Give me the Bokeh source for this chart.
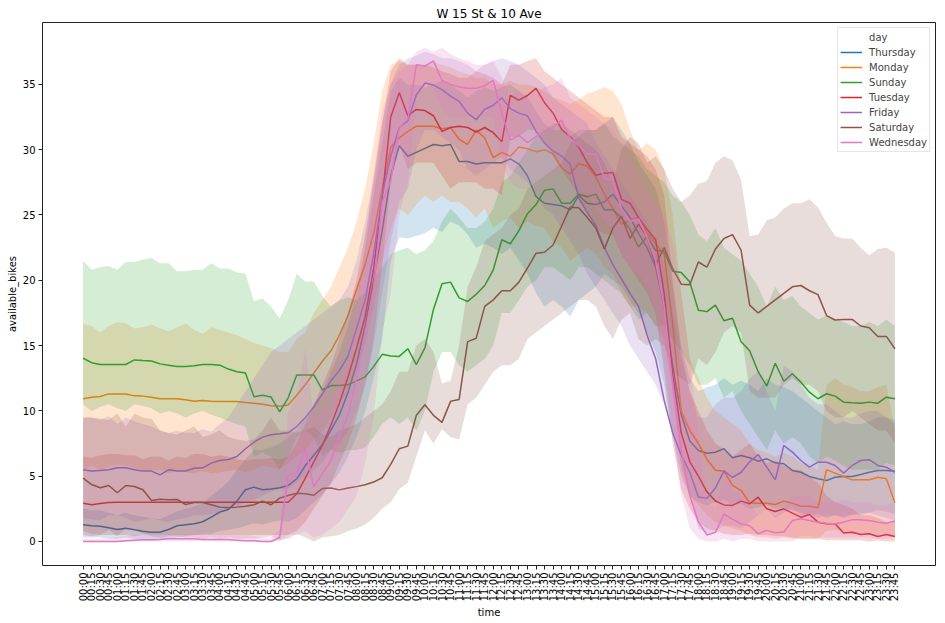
from math import pi
from bokeh.plotting import figure
from bokeh.models import Range1d, FixedTicker, Legend, LegendItem
from bokeh.embed import file_html
from bokeh.resources import INLINE

# ---------------- data ----------------
times = [f"{h:02d}:{m:02d}" for h in range(24) for m in (0, 15, 30, 45)]
days = ["Thursday", "Monday", "Sunday", "Tuesday", "Friday", "Saturday", "Wednesday"]
colors = ["#1f77b4", "#ff7f0e", "#2ca02c", "#d62728", "#9467bd", "#8c564b", "#e377c2"]

thursday = [
    1.28, 1.20, 1.17, 1.05, 0.92, 1.02, 0.89, 0.79, 0.71, 0.71, 0.92, 1.20,
    1.28, 1.36, 1.51, 1.86, 2.25, 2.45, 3.09, 3.96, 4.16, 3.96, 4.01, 4.11,
    4.29, 4.80, 5.80, 6.60, 7.40, 8.50, 9.70, 11.40, 13.60, 16.50, 20.00, 23.80,
    28.00, 30.30, 29.50, 29.80, 30.10, 30.40, 30.30, 30.40, 29.10, 29.10, 28.90, 29.00,
    29.00, 29.00, 29.30, 28.90, 28.00, 26.40, 25.90, 25.80, 25.70, 25.40, 26.50, 25.90,
    25.80, 26.00, 26.60, 25.70, 24.80, 23.60, 22.50, 21.00, 18.00, 13.40, 9.70, 7.70,
    6.97, 6.76, 6.84, 7.10, 6.41, 6.58, 6.41, 6.15, 6.33, 6.02, 5.95, 5.44,
    5.30, 4.98, 4.80, 4.67, 4.92, 4.98, 4.98, 5.13, 5.30, 5.44, 5.44, 5.38]
thursday_lo = [
    0.3, 0.3, 0.3, 0.2, 0.2, 0.3, 0.2, 0.1, 0.1, 0.1, 0.2, 0.3,
    0.4, 0.5, 0.6, 0.6, 0.8, 0.9, 1.0, 1.2, 1.4, 1.3, 1.5, 1.6,
    1.5, 1.8, 2.4, 3.0, 3.6, 4.4, 5.3, 6.5, 8.0, 10.0, 12.5, 15.5,
    21.5, 23.3, 23.2, 23.4, 23.6, 24.0, 23.7, 24.5, 24.2, 23.5, 22.5, 22.8,
    22.5, 22.0, 22.5, 21.5, 20.5, 19.0, 18.0, 18.5, 18.0, 17.2, 18.5, 19.0,
    19.5, 20.5, 20.0, 19.5, 18.5, 17.5, 16.0, 14.5, 12.0, 8.0, 5.0, 3.5,
    3.0, 2.8, 3.0, 3.2, 2.8, 2.9, 2.5, 2.6, 2.8, 2.5, 2.6, 2.4,
    2.2, 2.0, 2.1, 1.8, 2.0, 1.9, 2.1, 2.0, 2.2, 2.4, 2.3, 2.1]
thursday_hi = [
    2.5, 2.4, 2.4, 2.2, 2.0, 2.2, 2.0, 1.9, 1.8, 1.7, 2.0, 2.3,
    2.5, 2.7, 2.9, 3.5, 4.0, 4.6, 5.5, 6.3, 7.0, 7.0, 7.2, 7.5,
    8.0, 8.5, 9.5, 10.5, 11.5, 13.0, 14.5, 16.5, 19.0, 22.5, 26.5, 30.5,
    34.5, 35.5, 35.0, 35.0, 34.8, 35.0, 35.3, 35.0, 34.5, 34.0, 34.5, 34.8,
    34.5, 34.8, 35.0, 34.5, 34.0, 33.0, 32.0, 31.5, 31.5, 31.0, 31.5, 31.5,
    31.5, 32.0, 32.5, 31.5, 30.5, 29.0, 28.0, 27.0, 24.5, 19.5, 15.0, 12.5,
    11.5, 11.8, 12.0, 12.5, 12.0, 12.3, 12.0, 11.5, 12.5, 12.0, 11.8, 11.5,
    11.0, 10.5, 10.0, 9.5, 9.0, 9.2, 9.0, 9.0, 9.2, 9.5, 9.5, 9.3]

monday = [
    10.93, 11.05, 11.10, 11.30, 11.30, 11.30, 11.15, 11.13, 11.05, 10.93, 10.93, 10.93,
    10.85, 10.74, 10.80, 10.74, 10.72, 10.72, 10.72, 10.64, 10.59, 10.50, 10.40, 10.36,
    10.45, 11.20, 12.00, 12.90, 13.80, 14.60, 15.80, 17.30, 19.30, 21.20, 23.60, 27.00,
    30.20, 30.90, 31.40, 31.80, 31.80, 31.80, 31.60, 31.70, 30.80, 30.40, 31.50, 30.90,
    29.40, 29.80, 29.50, 30.20, 30.07, 29.85, 30.00, 29.67, 28.60, 28.14, 28.94, 28.73,
    27.90, 26.60, 25.50, 24.30, 24.60, 24.80, 23.60, 22.80, 22.00, 16.60, 10.00, 8.50,
    7.50, 6.30, 5.45, 5.38, 4.30, 3.90, 2.96, 2.93, 2.93, 2.83, 3.09, 2.93,
    2.70, 2.70, 2.58, 5.49, 5.23, 4.98, 4.72, 4.72, 4.72, 4.92, 4.80, 2.96]
monday_lo = [
    5.5, 5.8, 5.5, 5.7, 5.9, 5.8, 5.6, 5.5, 5.4, 5.5, 5.2, 5.4,
    5.3, 5.2, 5.4, 5.2, 5.3, 5.4, 5.5, 5.3, 5.5, 5.8, 5.7, 5.5,
    6.0, 6.5, 7.0, 7.8, 8.5, 9.5, 10.5, 11.5, 13.0, 15.0, 18.0, 21.5,
    24.0, 25.5, 25.0, 25.8, 26.5, 26.0, 26.5, 26.0, 26.0, 25.5, 24.8, 25.5,
    24.0, 24.5, 24.8, 24.0, 24.5, 24.2, 24.0, 23.0, 22.5, 21.5, 22.0, 22.5,
    22.0, 21.0, 20.5, 19.0, 18.0, 18.0, 17.5, 16.5, 15.5, 11.5, 5.5, 3.5,
    2.8, 2.0, 1.5, 1.2, 1.0, 0.8, 0.5, 0.3, 0.3, 0.2, 0.3, 0.2,
    0.2, 0.2, 0.2, 0.8, 0.9, 0.7, 0.6, 0.6, 0.6, 0.5, 0.6, 0.3]
monday_hi = [
    16.7, 16.5, 16.0, 16.5, 16.8, 16.7, 16.3, 16.4, 16.6, 16.3, 16.1, 16.4,
    16.7, 16.2, 15.9, 16.4, 16.2, 16.0, 15.8, 15.5, 15.2, 15.0, 14.8, 14.5,
    14.5, 15.5, 16.0, 17.5, 18.5, 19.5, 21.0, 22.5, 24.5, 27.0, 30.5, 34.5,
    36.5, 36.8, 36.5, 36.5, 36.5, 36.7, 36.5, 36.3, 36.0, 35.8, 35.5, 35.5,
    35.0, 35.0, 35.3, 35.0, 35.0, 34.8, 34.5, 34.0, 33.8, 33.5, 33.8, 34.3,
    34.5, 34.8, 34.5, 33.5, 31.5, 30.0, 30.5, 30.0, 28.5, 25.0, 19.0, 14.0,
    12.5, 11.0, 10.0, 9.5, 9.0, 8.5, 7.5, 7.0, 6.8, 6.5, 6.8, 6.5,
    6.0, 5.8, 5.5, 12.0, 12.5, 12.0, 11.8, 11.5, 11.5, 11.8, 12.0, 8.5]

sunday = [
    14.03, 13.69, 13.55, 13.55, 13.55, 13.55, 13.90, 13.85, 13.82, 13.60, 13.50, 13.40,
    13.40, 13.45, 13.55, 13.55, 13.50, 13.20, 13.00, 12.90, 11.08, 11.19, 11.06, 9.93,
    11.00, 12.75, 12.75, 12.75, 11.60, 11.94, 11.94, 12.00, 12.30, 12.60, 13.40, 14.33,
    14.20, 14.17, 14.76, 13.55, 14.82, 17.77, 19.73, 19.86, 18.65, 18.38, 18.93, 19.60,
    20.80, 23.10, 22.80, 23.80, 25.10, 25.80, 26.90, 27.00, 25.90, 25.90, 26.60, 26.40,
    26.60, 25.40, 25.40, 24.80, 23.90, 22.55, 23.35, 22.30, 22.20, 20.70, 20.60, 19.86,
    17.70, 17.60, 18.10, 16.90, 17.10, 15.30, 14.60, 13.00, 11.90, 13.65, 12.27, 12.84,
    12.20, 11.43, 10.93, 11.31, 11.13, 10.67, 10.62, 10.59, 10.67, 10.59, 11.05, 10.93]
sunday_lo = [
    10.5, 10.0, 10.3, 10.5, 10.2, 10.0, 10.5, 10.4, 10.2, 9.8, 10.0, 9.8,
    9.5, 9.8, 10.0, 9.7, 9.5, 9.2, 9.0, 8.8, 6.5, 6.8, 6.5, 5.5,
    6.5, 8.0, 8.5, 8.0, 6.5, 7.0, 6.8, 7.0, 7.0, 7.2, 8.0, 9.0,
    9.5, 9.0, 9.5, 8.5, 10.0, 13.0, 14.5, 14.5, 13.5, 13.0, 13.5, 14.0,
    15.0, 17.5, 17.5, 18.5, 19.5, 20.0, 21.0, 21.0, 20.5, 20.0, 21.0, 21.0,
    20.5, 20.0, 19.5, 19.0, 18.0, 17.0, 17.5, 16.5, 16.5, 15.5, 14.5, 13.5,
    12.0, 12.0, 12.5, 11.0, 11.5, 10.0, 9.0, 8.0, 7.0, 8.5, 7.5, 8.0,
    7.5, 6.5, 6.0, 6.5, 6.2, 5.8, 5.5, 5.5, 5.5, 5.5, 6.0, 5.8]
sunday_hi = [
    21.5, 20.8, 21.0, 21.1, 20.8, 21.4, 21.4, 21.6, 21.7, 21.3, 21.3, 20.7,
    20.7, 20.8, 20.8, 21.3, 20.9, 20.9, 20.6, 20.5, 18.4, 18.6, 18.0, 17.1,
    18.5, 20.5, 19.9, 19.9, 18.8, 18.0, 18.5, 18.7, 18.5, 19.0, 20.0, 21.0,
    22.0, 22.3, 22.5, 22.0, 22.3, 23.0, 24.5, 25.5, 24.8, 24.0, 24.0, 24.5,
    25.5, 27.5, 28.0, 29.0, 30.0, 31.0, 31.5, 32.0, 32.0, 31.5, 31.0, 31.5,
    31.5, 32.0, 31.0, 30.5, 30.0, 29.5, 28.5, 28.0, 27.5, 26.5, 26.0, 25.0,
    23.5, 23.0, 24.0, 22.5, 22.0, 21.5, 20.5, 19.5, 18.0, 19.5, 18.5, 18.8,
    18.0, 17.5, 17.0, 17.3, 17.0, 16.8, 16.5, 16.5, 16.8, 16.5, 17.0, 16.5]

tuesday = [
    2.93, 2.81, 2.90, 2.99, 3.00, 3.00, 3.00, 3.00, 3.00, 3.00, 3.00, 3.00,
    3.00, 3.00, 3.00, 3.00, 3.00, 3.00, 3.00, 3.00, 3.00, 3.00, 3.00, 3.00,
    3.00, 3.65, 4.85, 6.10, 7.35, 8.90, 10.60, 12.60, 14.80, 17.20, 20.90, 26.30,
    32.50, 34.37, 32.60, 33.08, 33.00, 32.60, 31.40, 31.70, 31.80, 31.70, 31.35, 31.70,
    31.30, 30.60, 34.15, 33.80, 34.15, 34.70, 33.60, 32.80, 31.55, 31.00, 30.20, 29.00,
    28.05, 28.20, 28.25, 26.20, 25.90, 24.80, 23.90, 23.10, 19.00, 12.80, 8.30, 6.10,
    5.00, 3.80, 3.10, 2.80, 2.76, 3.09, 2.89, 3.39, 2.50, 2.30, 2.50, 2.17,
    1.86, 2.07, 1.48, 1.35, 1.35, 0.64, 0.71, 0.54, 0.59, 0.38, 0.54, 0.38]
tuesday_lo = [
    0.5, 0.4, 0.5, 0.5, 0.5, 0.5, 0.4, 0.5, 0.5, 0.5, 0.5, 0.5,
    0.5, 0.5, 0.5, 0.5, 0.5, 0.5, 0.5, 0.5, 0.5, 0.5, 0.5, 0.5,
    0.5, 0.8, 1.5, 2.5, 3.5, 4.5, 6.0, 7.5, 9.5, 12.0, 15.5, 21.0,
    27.5, 30.5, 28.5, 29.0, 29.0, 29.0, 28.0, 27.0, 27.5, 27.5, 27.5, 27.0,
    27.0, 26.5, 31.0, 31.0, 31.5, 31.5, 30.5, 29.5, 28.5, 27.5, 26.5, 25.0,
    24.0, 23.5, 23.5, 22.0, 21.0, 20.0, 19.0, 17.5, 13.0, 7.5, 4.0, 2.5,
    1.5, 1.0, 0.8, 0.6, 0.5, 0.5, 0.6, 0.5, 0.5, 0.4, 0.4, 0.3,
    0.2, 0.2, 0.2, 0.1, 0.1, 0.1, 0.1, 0.1, 0.0, 0.1, 0.0, 0.0]
tuesday_hi = [
    6.5, 6.4, 6.6, 6.7, 6.7, 6.6, 6.6, 6.3, 6.5, 6.5, 6.2, 6.5,
    6.4, 6.7, 6.7, 6.5, 6.6, 6.5, 6.3, 6.2, 6.3, 6.3, 6.4, 6.3,
    6.5, 7.5, 9.0, 10.5, 12.0, 13.5, 15.5, 17.5, 20.0, 23.5, 27.5, 32.0,
    36.0, 37.0, 36.5, 36.5, 36.5, 36.3, 36.0, 35.8, 35.5, 35.5, 36.0, 35.8,
    35.5, 35.0, 36.5, 36.5, 36.8, 37.0, 36.0, 35.5, 35.0, 34.5, 34.0, 33.5,
    33.0, 32.5, 32.5, 31.0, 30.5, 30.0, 29.5, 28.5, 26.5, 20.0, 14.5, 11.5,
    10.0, 8.5, 7.5, 7.0, 6.5, 7.0, 7.5, 6.5, 6.0, 6.2, 5.8, 5.5,
    5.5, 5.0, 4.5, 3.5, 3.0, 2.8, 2.5, 2.0, 2.0, 1.8, 1.5, 1.5]

friday = [
    5.49, 5.39, 5.44, 5.49, 5.64, 5.64, 5.49, 5.39, 5.39, 5.10, 5.49, 5.39,
    5.39, 5.61, 5.64, 6.00, 6.20, 6.28, 6.51, 7.10, 7.60, 7.99, 8.17, 8.24,
    8.32, 8.80, 9.50, 10.30, 11.30, 12.30, 13.10, 14.20, 16.30, 18.50, 22.00, 26.50,
    29.50, 31.70, 32.20, 34.20, 35.10, 34.95, 34.60, 34.10, 33.70, 32.80, 32.30, 33.10,
    33.40, 33.97, 33.15, 32.80, 32.60, 31.40, 30.50, 29.90, 29.50, 28.90, 26.30, 25.20,
    24.20, 22.50, 21.20, 20.10, 19.00, 18.00, 15.80, 14.00, 10.80, 8.30, 6.60, 5.30,
    3.40, 3.30, 4.10, 5.40, 4.90, 5.30, 6.10, 6.66, 5.69, 4.72, 7.35, 6.84,
    6.20, 5.69, 6.07, 6.07, 5.82, 5.23, 5.82, 6.20, 6.26, 5.82, 5.69, 5.30]
friday_lo = [
    1.8, 1.7, 1.6, 2.0, 2.0, 1.8, 1.5, 1.6, 1.8, 1.6, 1.5, 1.7,
    1.8, 2.0, 2.0, 2.1, 2.2, 2.5, 2.7, 3.0, 3.2, 3.5, 3.8, 4.0,
    4.0, 4.5, 5.0, 5.5, 6.0, 7.0, 7.5, 8.5, 10.0, 12.0, 15.0, 19.0,
    23.0, 26.0, 27.0, 30.0, 31.5, 31.5, 31.0, 30.5, 30.0, 28.5, 28.0, 28.5,
    29.0, 29.5, 28.5, 28.0, 27.5, 26.5, 25.5, 25.0, 24.0, 23.0, 22.0, 20.5,
    19.5, 18.5, 17.5, 16.5, 15.0, 14.0, 13.0, 12.0, 10.5, 8.5, 6.0, 3.5,
    1.0, 0.6, 0.8, 1.2, 1.2, 1.0, 1.5, 2.0, 2.5, 1.8, 2.2, 2.5,
    2.0, 2.0, 1.8, 2.0, 2.0, 1.8, 2.0, 2.2, 2.2, 2.0, 1.8, 1.6]
friday_hi = [
    9.5, 9.5, 9.3, 9.6, 9.0, 9.5, 9.2, 9.0, 8.8, 8.5, 8.3, 8.5,
    8.3, 8.3, 8.6, 8.4, 9.0, 9.5, 10.5, 11.5, 12.5, 13.5, 14.5, 15.0,
    15.5, 16.0, 16.5, 17.0, 17.5, 18.0, 18.5, 19.5, 21.5, 24.5, 28.0, 32.0,
    35.0, 36.5, 37.0, 37.2, 37.5, 37.3, 37.0, 37.0, 36.8, 36.5, 36.0, 36.5,
    36.8, 37.0, 36.8, 36.5, 36.0, 35.5, 35.0, 34.0, 33.5, 33.0, 32.5, 32.0,
    30.5, 29.5, 28.5, 27.5, 26.5, 25.5, 24.5, 23.0, 21.0, 17.5, 14.0, 11.5,
    9.5, 9.5, 10.5, 11.0, 11.0, 11.5, 12.5, 13.0, 11.5, 10.0, 13.5, 13.0,
    12.0, 11.0, 10.5, 10.5, 10.0, 9.5, 9.5, 9.8, 10.0, 10.0, 9.5, 9.0]

saturday = [
    4.85, 4.36, 4.11, 4.29, 3.73, 4.29, 4.21, 3.96, 3.14, 3.24, 3.19, 3.22,
    2.83, 2.99, 2.99, 2.81, 2.63, 2.58, 2.63, 2.70, 2.81, 3.09, 2.81, 3.32,
    3.52, 3.70, 3.65, 3.54, 4.05, 4.10, 3.95, 4.10, 4.20, 4.35, 4.55, 4.88,
    5.90, 7.10, 7.30, 9.66, 10.47, 9.66, 9.12, 10.73, 10.87, 15.30, 15.56, 18.00,
    18.50, 19.20, 19.20, 19.86, 20.94, 22.07, 22.15, 22.70, 24.16, 25.60, 25.55, 24.80,
    24.00, 22.40, 24.00, 24.90, 23.20, 24.30, 23.30, 21.20, 22.50, 20.90, 19.70, 19.65,
    21.40, 21.00, 22.40, 23.20, 23.50, 22.30, 18.10, 17.50, 18.00, 18.50, 19.00, 19.50,
    19.60, 19.20, 18.90, 17.30, 16.96, 17.00, 17.00, 16.50, 16.37, 15.70, 15.70, 14.76]
saturday_lo = [
    0.8, 0.6, 0.5, 0.9, 0.4, 1.0, 0.9, 0.6, 0.4, 0.3, 0.4, 0.4,
    0.3, 0.3, 0.2, 0.3, 0.2, 0.3, 0.2, 0.2, 0.2, 0.3, 0.4, 0.1,
    0.2, 0.6, 0.3, 0.0, 0.3, 0.4, 0.5, 0.8, 1.0, 1.3, 1.8, 2.5,
    3.0, 4.0, 4.5, 6.5, 8.5, 7.5, 8.6, 8.0, 7.8, 10.5, 11.0, 12.0,
    13.0, 13.5, 13.5, 14.0, 15.5, 16.0, 16.5, 17.0, 17.5, 18.0, 18.5, 18.5,
    18.0, 16.5, 15.5, 17.0, 17.5, 15.5, 15.0, 15.5, 15.0, 13.0, 12.5, 12.0,
    14.0, 13.5, 14.5, 16.0, 16.5, 16.0, 11.5, 11.0, 11.0, 11.0, 12.0, 12.5,
    12.0, 12.0, 11.5, 10.0, 9.5, 9.5, 10.0, 9.5, 9.0, 8.5, 8.5, 7.5]
saturday_hi = [
    9.5, 9.5, 9.4, 9.3, 9.8, 8.8, 9.8, 9.5, 9.4, 8.5, 8.3, 8.2,
    8.5, 8.8, 8.0, 8.2, 8.5, 8.0, 7.8, 7.7, 7.8, 8.5, 9.5, 8.5,
    8.5, 8.3, 8.5, 8.8, 8.2, 8.0, 8.5, 8.7, 9.0, 9.5, 10.0, 10.5,
    11.5, 13.0, 13.0, 15.0, 15.5, 14.5, 12.1, 12.3, 15.0, 19.5, 21.0, 23.0,
    23.5, 24.0, 25.0, 25.5, 27.0, 27.5, 28.0, 28.5, 29.0, 30.5, 31.0, 30.5,
    30.0, 29.0, 27.5, 30.0, 31.0, 30.5, 29.0, 29.5, 28.5, 27.0, 26.0, 26.5,
    27.4, 27.6, 29.0, 29.5, 29.2, 27.7, 23.4, 23.5, 24.6, 24.8, 25.5, 25.9,
    25.9, 26.2, 25.6, 24.4, 23.4, 23.2, 23.2, 22.5, 21.9, 22.4, 22.5, 22.1]

wednesday = [
    0.00, 0.00, 0.00, 0.00, 0.00, 0.05, 0.10, 0.13, 0.13, 0.15, 0.20, 0.20,
    0.20, 0.20, 0.15, 0.15, 0.15, 0.15, 0.10, 0.05, 0.05, 0.00, 0.00, 0.30,
    5.05, 5.20, 7.10, 4.20, 5.20, 6.20, 8.00, 9.70, 12.50, 16.00, 19.30, 26.00,
    27.60, 31.70, 32.35, 36.50, 36.40, 36.80, 35.30, 35.00, 34.80, 34.70, 34.70, 34.90,
    35.30, 32.76, 30.74, 31.10, 30.55, 31.00, 31.40, 31.70, 32.27, 30.87, 30.30, 29.67,
    29.67, 27.80, 27.65, 25.50, 24.50, 24.70, 23.30, 21.50, 18.00, 12.00, 7.00, 3.50,
    1.50, 0.50, 0.70, 2.10, 1.70, 1.35, 1.20, 0.60, 0.85, 0.67, 0.72, 1.60,
    1.74, 1.60, 1.48, 1.40, 1.35, 1.48, 1.66, 1.66, 1.60, 1.48, 1.40, 1.56]
wednesday_lo = [
    0.0, 0.0, 0.0, 0.0, 0.0, 0.0, 0.0, 0.0, 0.0, 0.0, 0.0, 0.0,
    0.0, 0.0, 0.0, 0.0, 0.0, 0.0, 0.0, 0.0, 0.0, 0.0, 0.0, 0.0,
    0.5, 0.5, 0.8, 0.3, 0.5, 1.0, 1.5, 2.5, 3.5, 6.0, 9.5, 16.0,
    19.0, 25.0, 27.5, 34.0, 35.0, 34.8, 33.0, 32.5, 32.5, 32.5, 32.5, 32.5,
    32.5, 29.0, 27.5, 27.0, 27.0, 27.5, 28.0, 28.0, 28.5, 28.0, 27.0, 26.5,
    25.5, 24.5, 24.0, 22.0, 21.0, 20.5, 19.5, 17.5, 14.0, 8.5, 3.5, 1.0,
    0.2, 0.0, 0.0, 0.2, 0.0, 0.2, 0.2, 0.0, 0.0, 0.0, 0.0, 0.0,
    0.4, 0.4, 0.3, 0.3, 0.3, 0.3, 0.3, 0.3, 0.3, 0.2, 0.2, 0.3]
wednesday_hi = [
    0.2, 0.2, 0.2, 0.2, 0.3, 0.4, 0.5, 0.5, 0.5, 0.5, 0.6, 0.6,
    0.6, 0.6, 0.6, 0.5, 0.5, 0.5, 0.5, 0.5, 0.4, 0.3, 0.3, 0.9,
    10.0, 11.0, 14.8, 9.5, 10.0, 11.0, 12.5, 14.0, 18.0, 22.5, 28.0, 33.0,
    35.0, 36.0, 36.5, 37.5, 37.8, 37.5, 37.8, 37.3, 37.0, 36.8, 36.5, 36.5,
    36.8, 35.5, 34.0, 34.5, 34.0, 34.5, 34.8, 35.0, 35.5, 34.0, 33.5, 33.0,
    32.5, 32.0, 31.5, 30.5, 29.5, 28.0, 27.0, 26.0, 25.0, 23.0, 19.0, 14.0,
    8.0, 3.0, 2.5, 5.0, 4.0, 3.5, 3.0, 2.0, 2.5, 2.0, 2.5, 3.5,
    3.5, 3.5, 3.0, 3.0, 3.0, 3.2, 3.0, 3.0, 3.0, 2.8, 2.8, 3.0]

series = {
    "Thursday": (thursday, thursday_lo, thursday_hi),
    "Monday": (monday, monday_lo, monday_hi),
    "Sunday": (sunday, sunday_lo, sunday_hi),
    "Tuesday": (tuesday, tuesday_lo, tuesday_hi),
    "Friday": (friday, friday_lo, friday_hi),
    "Saturday": (saturday, saturday_lo, saturday_hi),
    "Wednesday": (wednesday, wednesday_lo, wednesday_hi),
}
y_ticks = [0, 5, 10, 15, 20, 25, 30, 35]

# ---------------- figure ----------------
FONT = "DejaVu Sans"
xpos = list(range(len(times)))
Y0, Y1 = -1.84, 39.74

p = figure(width=945, height=623, output_backend="svg", toolbar_location=None,
           x_range=Range1d(-4.75, len(times) - 1 + 4.75), y_range=Range1d(Y0, Y1),
           min_border_left=42, min_border_right=10, min_border_top=22, min_border_bottom=58,
           title="W 15 St & 10 Ave")
p.title.align = "center"
p.title.text_font = FONT
p.title.text_font_size = "12px"
p.title.text_font_style = "normal"
p.title.text_color = "black"
p.title.standoff = 3
p.xgrid.visible = False
p.ygrid.visible = False
p.outline_line_color = "#222222"
p.outline_line_width = 1
p.background_fill_color = "white"
p.border_fill_color = "white"

items = []
dummy = p.line([0], [0], line_alpha=0)
items.append(LegendItem(label="day", renderers=[dummy]))
for name, col in zip(days, colors):
    vals, lo, hi = series[name]
    r = p.line(xpos, vals, line_color=col, line_width=1.5)
    p.varea(x=xpos, y1=lo, y2=hi, fill_color=col, fill_alpha=0.2)
    items.append(LegendItem(label=name, renderers=[r]))

xa = p.xaxis[0]
xa.ticker = FixedTicker(ticks=xpos, minor_ticks=[])
xa.major_label_overrides = {i: t for i, t in zip(xpos, times)}
xa.major_label_orientation = pi / 2
ya = p.yaxis[0]
ya.ticker = FixedTicker(ticks=y_ticks, minor_ticks=[])
for ax in (xa, ya):
    ax.axis_line_color = None
    ax.major_tick_line_color = "#222222"
    ax.major_tick_out = 4
    ax.major_tick_in = 0
    ax.minor_tick_out = 0
    ax.minor_tick_in = 0
    ax.major_label_text_font = FONT
    ax.major_label_text_font_size = "10px"
    ax.major_label_text_color = "black"
    ax.major_label_standoff = 3
    ax.axis_label_text_font = FONT
    ax.axis_label_text_font_size = "10px"
    ax.axis_label_text_font_style = "normal"
    ax.axis_label_text_color = "black"
xa.axis_label = "time"
xa.axis_label_standoff = 3
ya.axis_label = "available_bikes"
ya.axis_label_standoff = 2

legend = Legend(items=items, location="top_right")
legend.margin = 5
legend.padding = 2
legend.spacing = 1
legend.label_height = 14
legend.glyph_height = 14
legend.glyph_width = 22
legend.label_standoff = 7
legend.label_text_font = FONT
legend.label_text_font_size = "10px"
legend.border_line_color = "#cccccc"
legend.border_line_width = 1
legend.background_fill_alpha = 0.8
p.add_layout(legend)

open("out.html", "w").write(file_html(p, INLINE))
